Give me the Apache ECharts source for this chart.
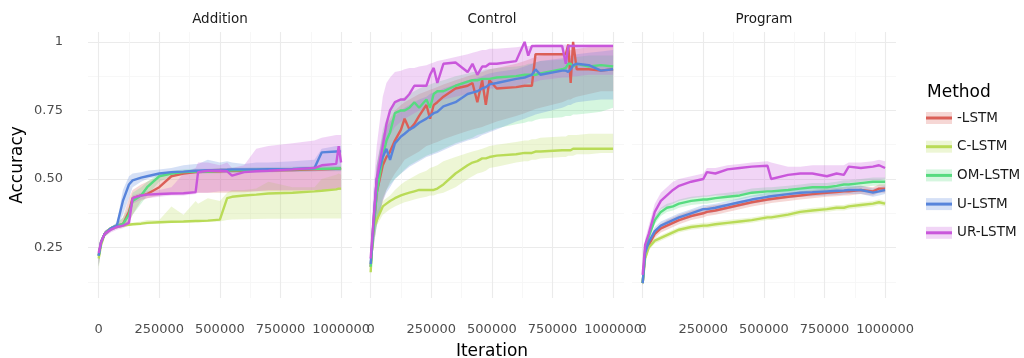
<!DOCTYPE html>
<html>
<head>
<meta charset="utf-8">
<script src="https://cdn.jsdelivr.net/npm/echarts@6/dist/echarts.min.js"></script>
<style>
  html, body { margin: 0; padding: 0; background: #fff; }
  #main { width: 1024px; height: 358px; }
</style>
</head>
<body>
<div id="main"></div>
<script>
// methods, colours, facets
var methods = ['-LSTM', 'C-LSTM', 'OM-LSTM', 'U-LSTM', 'UR-LSTM'];
var colors = ['#db5f57', '#b9db57', '#57db80', '#5784db', '#c957db'];
var panelNames = ['Addition', 'Control', 'Program'];

// axis ticks
var xTicks = [0, 250000, 500000, 750000, 1000000];
var xMinor = [125000, 375000, 625000, 875000];
var yTicks = [0.25, 0.5, 0.75, 1];
var yMinor = [0.125, 0.375, 0.625, 0.875];

// ---- Addition ----
var addX = [0, 10000, 25000, 50000, 75000, 100000, 125000, 140000, 175000, 200000, 250000, 300000, 350000, 400000, 410000, 450000, 500000, 530000, 550000, 600000, 650000, 700000, 800000, 890000, 920000, 980000, 990000, 1000000];
var addLstm   = [0.22,0.27,0.30,0.32,0.33,0.335,0.38,0.43,0.44,0.445,0.47,0.51,0.52,0.525,0.525,0.527,0.528,0.53,0.53,0.53,0.53,0.532,0.533,0.535,0.535,0.537,0.537,0.54];
var addLstmLo = [0.18,0.26,0.29,0.31,0.32,0.325,0.34,0.37,0.42,0.43,0.44,0.445,0.445,0.45,0.45,0.45,0.45,0.45,0.452,0.452,0.455,0.455,0.455,0.458,0.46,0.46,0.46,0.46];
var addLstmHi = [0.24,0.28,0.31,0.325,0.335,0.36,0.43,0.46,0.48,0.49,0.51,0.525,0.53,0.535,0.535,0.535,0.54,0.54,0.54,0.54,0.54,0.54,0.54,0.545,0.545,0.545,0.545,0.545];
var addC   = [0.21,0.26,0.30,0.32,0.325,0.33,0.333,0.335,0.337,0.34,0.342,0.344,0.345,0.347,0.347,0.348,0.352,0.43,0.435,0.44,0.443,0.447,0.45,0.455,0.457,0.462,0.465,0.465];
var addCLo = [0.17,0.25,0.29,0.31,0.32,0.325,0.33,0.33,0.333,0.335,0.338,0.34,0.34,0.342,0.342,0.343,0.345,0.35,0.352,0.353,0.354,0.355,0.355,0.356,0.356,0.356,0.356,0.356];
var addCHi = [0.23,0.27,0.31,0.325,0.33,0.335,0.34,0.34,0.345,0.35,0.35,0.40,0.37,0.42,0.41,0.43,0.42,0.45,0.46,0.46,0.465,0.49,0.47,0.47,0.50,0.515,0.52,0.515];
var addOm   = [0.22,0.27,0.30,0.32,0.33,0.335,0.37,0.42,0.44,0.47,0.51,0.52,0.525,0.527,0.527,0.527,0.53,0.53,0.532,0.532,0.533,0.534,0.535,0.537,0.537,0.538,0.538,0.538];
var addOmLo = [0.18,0.26,0.29,0.31,0.32,0.325,0.34,0.37,0.41,0.44,0.49,0.51,0.515,0.52,0.52,0.52,0.52,0.522,0.522,0.524,0.525,0.525,0.526,0.527,0.528,0.528,0.528,0.528];
var addOmHi = [0.24,0.28,0.31,0.325,0.34,0.36,0.40,0.45,0.47,0.49,0.52,0.53,0.535,0.537,0.537,0.537,0.54,0.54,0.542,0.542,0.543,0.544,0.545,0.547,0.547,0.548,0.548,0.548];
var addU   = [0.22,0.27,0.30,0.32,0.33,0.42,0.48,0.495,0.505,0.51,0.52,0.525,0.527,0.53,0.53,0.532,0.533,0.534,0.535,0.535,0.535,0.536,0.537,0.54,0.597,0.60,0.60,0.60];
var addULo = [0.18,0.26,0.29,0.31,0.32,0.37,0.43,0.47,0.49,0.50,0.51,0.515,0.518,0.52,0.52,0.522,0.522,0.523,0.524,0.524,0.525,0.525,0.526,0.528,0.53,0.53,0.53,0.53];
var addUHi = [0.24,0.28,0.31,0.325,0.34,0.46,0.51,0.52,0.525,0.53,0.535,0.54,0.55,0.555,0.555,0.57,0.56,0.565,0.56,0.555,0.56,0.56,0.565,0.57,0.61,0.62,0.62,0.62];
var addUr   = [0.23,0.27,0.30,0.315,0.325,0.33,0.34,0.43,0.44,0.443,0.445,0.447,0.448,0.452,0.525,0.53,0.53,0.528,0.512,0.525,0.528,0.53,0.535,0.54,0.55,0.555,0.62,0.56];
var addUrLo = [0.19,0.26,0.29,0.305,0.315,0.32,0.33,0.41,0.425,0.43,0.435,0.44,0.44,0.445,0.45,0.45,0.455,0.455,0.455,0.455,0.455,0.46,0.46,0.46,0.46,0.46,0.46,0.46];
var addUrHi = [0.25,0.28,0.31,0.325,0.335,0.34,0.35,0.44,0.45,0.455,0.46,0.47,0.52,0.54,0.56,0.56,0.55,0.56,0.54,0.55,0.61,0.62,0.63,0.64,0.65,0.66,0.66,0.66];

// ---- Control ----
var ctlX = [0, 10000, 25000, 50000, 65000, 80000, 100000, 125000, 140000, 160000, 180000, 200000, 230000, 245000, 260000, 275000, 300000, 350000, 400000, 420000, 440000, 460000, 475000, 490000, 520000, 600000, 635000, 650000, 665000, 680000, 700000, 790000, 805000, 815000, 825000, 835000, 850000, 900000, 950000, 1000000];
var ctlLstm   = [0.18,0.30,0.45,0.55,0.58,0.60,0.64,0.68,0.72,0.68,0.70,0.73,0.77,0.72,0.77,0.78,0.80,0.83,0.84,0.85,0.78,0.86,0.77,0.86,0.83,0.835,0.84,0.84,0.84,0.955,0.955,0.955,0.955,0.99,0.85,1.0,0.90,0.90,0.895,0.90];
var ctlLstmLo = [0.17,0.24,0.33,0.42,0.46,0.49,0.52,0.55,0.57,0.58,0.59,0.60,0.62,0.625,0.63,0.635,0.645,0.66,0.675,0.68,0.685,0.69,0.695,0.70,0.71,0.73,0.74,0.745,0.75,0.755,0.76,0.78,0.785,0.79,0.79,0.795,0.80,0.81,0.82,0.82];
var ctlLstmHi = [0.20,0.38,0.55,0.66,0.70,0.72,0.75,0.77,0.78,0.79,0.80,0.81,0.82,0.825,0.83,0.835,0.845,0.86,0.875,0.88,0.885,0.89,0.895,0.90,0.905,0.92,0.93,0.935,0.94,0.945,0.95,0.96,0.965,0.965,0.97,0.97,0.975,0.98,0.98,0.98];
var ctlC   = [0.16,0.32,0.35,0.40,0.41,0.42,0.43,0.44,0.445,0.45,0.455,0.46,0.46,0.46,0.46,0.465,0.48,0.52,0.55,0.56,0.565,0.575,0.575,0.58,0.585,0.59,0.595,0.595,0.595,0.60,0.60,0.605,0.605,0.605,0.605,0.61,0.61,0.61,0.61,0.61];
var ctlCLo = [0.15,0.30,0.33,0.37,0.38,0.39,0.40,0.41,0.415,0.42,0.425,0.43,0.435,0.44,0.44,0.445,0.45,0.47,0.50,0.51,0.52,0.525,0.53,0.54,0.545,0.56,0.565,0.565,0.57,0.57,0.575,0.58,0.58,0.585,0.585,0.585,0.59,0.59,0.595,0.595];
var ctlCHi = [0.17,0.35,0.38,0.42,0.43,0.44,0.46,0.48,0.49,0.50,0.51,0.52,0.53,0.54,0.545,0.55,0.565,0.58,0.595,0.60,0.605,0.61,0.615,0.62,0.625,0.635,0.64,0.64,0.645,0.645,0.65,0.655,0.655,0.66,0.66,0.66,0.66,0.665,0.665,0.665];
var ctlOm   = [0.18,0.30,0.45,0.58,0.64,0.67,0.74,0.75,0.75,0.76,0.78,0.76,0.79,0.76,0.81,0.82,0.82,0.84,0.855,0.86,0.86,0.865,0.865,0.865,0.87,0.875,0.88,0.88,0.88,0.88,0.885,0.90,0.905,0.92,0.92,0.91,0.92,0.91,0.915,0.91];
var ctlOmLo = [0.17,0.24,0.33,0.43,0.46,0.48,0.50,0.52,0.535,0.55,0.56,0.57,0.585,0.59,0.595,0.60,0.61,0.63,0.645,0.65,0.66,0.665,0.67,0.675,0.685,0.70,0.705,0.71,0.71,0.715,0.72,0.725,0.73,0.73,0.73,0.735,0.735,0.74,0.745,0.76];
var ctlOmHi = [0.20,0.38,0.55,0.68,0.72,0.75,0.78,0.79,0.80,0.81,0.82,0.83,0.84,0.845,0.85,0.855,0.86,0.875,0.885,0.89,0.89,0.895,0.90,0.90,0.905,0.91,0.915,0.92,0.92,0.925,0.93,0.935,0.94,0.94,0.94,0.945,0.945,0.95,0.95,0.95];
var ctlU   = [0.19,0.32,0.50,0.58,0.61,0.57,0.63,0.655,0.665,0.68,0.69,0.705,0.72,0.73,0.74,0.745,0.765,0.78,0.81,0.815,0.82,0.83,0.835,0.845,0.85,0.865,0.87,0.875,0.88,0.90,0.88,0.895,0.895,0.89,0.90,0.915,0.92,0.915,0.895,0.90];
var ctlULo = [0.17,0.25,0.33,0.42,0.45,0.47,0.50,0.52,0.53,0.545,0.555,0.565,0.58,0.585,0.59,0.595,0.605,0.625,0.64,0.645,0.65,0.66,0.665,0.67,0.68,0.71,0.72,0.725,0.73,0.735,0.74,0.76,0.765,0.77,0.77,0.775,0.78,0.785,0.79,0.79];
var ctlUHi = [0.21,0.40,0.55,0.66,0.69,0.71,0.73,0.75,0.76,0.77,0.78,0.79,0.80,0.81,0.815,0.82,0.83,0.845,0.86,0.865,0.87,0.875,0.88,0.885,0.89,0.90,0.91,0.915,0.92,0.925,0.93,0.94,0.945,0.945,0.95,0.95,0.955,0.96,0.965,0.97];
var ctlUr   = [0.21,0.33,0.50,0.62,0.70,0.75,0.78,0.79,0.79,0.81,0.84,0.84,0.84,0.88,0.905,0.85,0.92,0.925,0.89,0.92,0.88,0.91,0.91,0.92,0.92,0.93,1.0,0.95,0.985,0.985,0.985,0.985,0.92,0.985,0.985,0.985,0.985,0.985,0.985,0.985];
var ctlUrLo = [0.20,0.28,0.40,0.56,0.62,0.66,0.69,0.71,0.72,0.73,0.74,0.75,0.76,0.77,0.78,0.78,0.79,0.80,0.81,0.815,0.82,0.82,0.825,0.83,0.83,0.84,0.845,0.85,0.85,0.855,0.86,0.87,0.87,0.87,0.875,0.875,0.875,0.88,0.88,0.88];
var ctlUrHi = [0.22,0.45,0.62,0.80,0.85,0.87,0.89,0.895,0.90,0.905,0.905,0.91,0.915,0.92,0.925,0.93,0.935,0.945,0.955,0.96,0.965,0.97,0.97,0.975,0.975,0.98,0.985,0.985,0.985,0.99,0.99,0.99,0.99,0.99,0.99,0.99,0.99,0.99,0.99,0.99];

// ---- Program ----
var prgX = [0, 10000, 25000, 50000, 75000, 100000, 125000, 150000, 200000, 250000, 265000, 300000, 350000, 400000, 450000, 515000, 530000, 600000, 650000, 700000, 760000, 800000, 830000, 850000, 900000, 950000, 975000, 1000000];
var prgLstm   = [0.12,0.22,0.26,0.30,0.32,0.33,0.34,0.35,0.365,0.375,0.38,0.385,0.395,0.405,0.415,0.425,0.427,0.435,0.44,0.445,0.45,0.452,0.455,0.455,0.46,0.455,0.465,0.465];
var prgLstmLo = [0.11,0.20,0.245,0.285,0.305,0.315,0.325,0.335,0.35,0.36,0.365,0.37,0.38,0.39,0.40,0.41,0.412,0.42,0.425,0.43,0.435,0.437,0.44,0.44,0.445,0.44,0.45,0.45];
var prgLstmHi = [0.13,0.24,0.275,0.315,0.335,0.35,0.36,0.37,0.385,0.395,0.40,0.405,0.41,0.42,0.43,0.44,0.442,0.45,0.455,0.46,0.465,0.467,0.47,0.47,0.475,0.47,0.48,0.48];
var prgC   = [0.12,0.21,0.25,0.275,0.285,0.295,0.305,0.315,0.325,0.33,0.33,0.335,0.34,0.345,0.35,0.36,0.36,0.37,0.38,0.385,0.39,0.395,0.395,0.40,0.405,0.41,0.415,0.41];
var prgCLo = [0.11,0.20,0.24,0.265,0.275,0.285,0.295,0.305,0.315,0.32,0.32,0.325,0.33,0.335,0.34,0.35,0.35,0.36,0.37,0.375,0.38,0.385,0.385,0.39,0.395,0.40,0.405,0.40];
var prgCHi = [0.13,0.22,0.26,0.285,0.295,0.305,0.315,0.325,0.335,0.34,0.34,0.345,0.35,0.355,0.36,0.37,0.37,0.38,0.39,0.395,0.40,0.405,0.405,0.41,0.415,0.42,0.425,0.42];
var prgOm   = [0.12,0.24,0.29,0.35,0.38,0.395,0.40,0.41,0.42,0.425,0.425,0.43,0.435,0.44,0.45,0.455,0.455,0.46,0.465,0.47,0.47,0.475,0.48,0.48,0.485,0.49,0.49,0.49];
var prgOmLo = [0.11,0.22,0.275,0.335,0.365,0.38,0.385,0.395,0.405,0.41,0.41,0.415,0.42,0.425,0.435,0.44,0.44,0.445,0.45,0.455,0.455,0.46,0.465,0.465,0.47,0.475,0.475,0.475];
var prgOmHi = [0.13,0.26,0.305,0.365,0.395,0.41,0.415,0.425,0.435,0.44,0.44,0.445,0.45,0.455,0.465,0.47,0.47,0.475,0.48,0.485,0.485,0.49,0.495,0.495,0.50,0.505,0.505,0.505];
var prgU   = [0.12,0.23,0.27,0.31,0.33,0.34,0.35,0.36,0.375,0.39,0.39,0.395,0.405,0.415,0.425,0.435,0.437,0.445,0.45,0.452,0.455,0.457,0.458,0.46,0.46,0.45,0.455,0.46];
var prgULo = [0.11,0.215,0.255,0.295,0.315,0.325,0.335,0.345,0.36,0.375,0.375,0.38,0.39,0.40,0.41,0.42,0.422,0.43,0.435,0.437,0.44,0.442,0.443,0.445,0.445,0.435,0.44,0.445];
var prgUHi = [0.13,0.245,0.285,0.325,0.345,0.355,0.365,0.375,0.39,0.405,0.405,0.41,0.42,0.43,0.44,0.45,0.452,0.46,0.465,0.467,0.47,0.472,0.473,0.475,0.475,0.465,0.47,0.475];
var prgUr   = [0.15,0.26,0.30,0.38,0.42,0.44,0.46,0.475,0.49,0.50,0.525,0.52,0.535,0.54,0.545,0.548,0.50,0.515,0.52,0.52,0.51,0.52,0.515,0.545,0.54,0.545,0.55,0.54];
var prgUrLo = [0.14,0.24,0.28,0.35,0.39,0.40,0.41,0.42,0.43,0.435,0.435,0.44,0.44,0.445,0.45,0.455,0.455,0.46,0.465,0.47,0.475,0.48,0.48,0.485,0.49,0.495,0.495,0.50];
var prgUrHi = [0.16,0.28,0.33,0.41,0.45,0.47,0.49,0.50,0.51,0.52,0.54,0.54,0.55,0.555,0.56,0.565,0.56,0.545,0.545,0.55,0.55,0.55,0.55,0.56,0.56,0.565,0.57,0.565];

// table built from the arrays above
var panels = [
  { x: addX, mean: [addLstm, addC, addOm, addU, addUr], lo: [addLstmLo, addCLo, addOmLo, addULo, addUrLo], hi: [addLstmHi, addCHi, addOmHi, addUHi, addUrHi] },
  { x: ctlX, mean: [ctlLstm, ctlC, ctlOm, ctlU, ctlUr], lo: [ctlLstmLo, ctlCLo, ctlOmLo, ctlULo, ctlUrLo], hi: [ctlLstmHi, ctlCHi, ctlOmHi, ctlUHi, ctlUrHi] },
  { x: prgX, mean: [prgLstm, prgC, prgOm, prgU, prgUr], lo: [prgLstmLo, prgCLo, prgOmLo, prgULo, prgUrLo], hi: [prgLstmHi, prgCHi, prgOmHi, prgUHi, prgUrHi] }
];

var gridLefts = [88, 360, 632];
var xMin = -44000, xMax = 1045000;
var yMin = 0.066, yMax = 1.036;
var bandAlpha = 0.25;

function hexA(hex, a) {
  var n = parseInt(hex.slice(1), 16);
  return 'rgba(' + (n >> 16) + ',' + ((n >> 8) & 255) + ',' + (n & 255) + ',' + a + ')';
}

var grids = [], xAxes = [], yAxes = [], series = [];
var minorX = [], minorY = [];

panelNames.forEach(function (name, p) {
  grids.push({ left: gridLefts[p], top: 32, width: 264, height: 266, containLabel: false, outerBoundsMode: 'none' });
  xAxes.push({
    type: 'value', gridIndex: p, min: xMin, max: xMax,
    name: p === 1 ? 'Iteration' : '',
    nameLocation: 'middle', nameGap: 45,
    nameTextStyle: { fontSize: 17, color: '#000' },
    axisLine: { show: false },
    axisTick: { show: false, customValues: xTicks },
    axisLabel: { customValues: xTicks, formatter: function (v) { return String(v); }, fontSize: 13, color: '#4d4d4d', margin: 25, hideOverlap: false },
    splitLine: { show: true, lineStyle: { color: '#ebebeb', width: 1.1 } }
  });
  yAxes.push({
    type: 'value', gridIndex: p, min: yMin, max: yMax,
    name: p === 0 ? 'Accuracy' : '',
    nameLocation: 'middle', nameRotate: 90, nameGap: 62,
    nameTextStyle: { fontSize: 17, color: '#000' },
    axisLine: { show: false },
    axisTick: { show: false, customValues: yTicks },
    axisLabel: { show: p === 0, customValues: yTicks, formatter: function (v) { return v === 1 ? '1' : v.toFixed(2); }, fontSize: 13, color: '#4d4d4d', margin: 25 },
    splitLine: { show: true, lineStyle: { color: '#ebebeb', width: 1.1 } }
  });
  minorX.push({
    type: 'value', gridIndex: p, min: xMin, max: xMax,
    axisLine: { show: false }, axisLabel: { show: false },
    axisTick: { show: false, customValues: xMinor },
    splitLine: { show: true, lineStyle: { color: '#f5f5f5', width: 0.8 } }
  });
  minorY.push({
    type: 'value', gridIndex: p, min: yMin, max: yMax,
    axisLine: { show: false }, axisLabel: { show: false },
    axisTick: { show: false, customValues: yMinor },
    splitLine: { show: true, lineStyle: { color: '#f5f5f5', width: 0.8 } }
  });

  var d = panels[p];
  // ribbons first
  methods.forEach(function (m, k) {
    var lo = d.lo[k], hi = d.hi[k], xs = d.x;
    series.push({
      name: m + ' band', type: 'custom', xAxisIndex: p, yAxisIndex: p, z: 2,
      itemStyle: { color: hexA(colors[k], bandAlpha) },
      data: xs.map(function (x, i) { return [x, lo[i], hi[i]]; }),
      encode: { x: 0, y: [1, 2] },
      renderItem: function (params, api) {
        if (params.dataIndex !== 0) return null;
        var pts = [];
        for (var i = 0; i < xs.length; i++) pts.push(api.coord([xs[i], lo[i]]));
        for (var j = xs.length - 1; j >= 0; j--) pts.push(api.coord([xs[j], hi[j]]));
        return { type: 'polygon', shape: { points: pts }, style: { fill: colors[k], opacity: bandAlpha } };
      },
      silent: true
    });
  });
  methods.forEach(function (m, k) {
    var mean = d.mean[k];
    series.push({
      name: m, type: 'line', xAxisIndex: p, yAxisIndex: p, z: 3,
      showSymbol: false, symbol: 'none',
      color: colors[k],
      lineStyle: { width: 2.4, color: colors[k] },
      data: d.x.map(function (x, i) { return [x, mean[i]]; })
    });
  });
});

var graphics = panelNames.map(function (name, p) {
  return { type: 'text', x: gridLefts[p] + 132, y: 19,
    style: { text: name, font: '13.5px "DejaVu Sans"', fill: '#1a1a1a', align: 'center', verticalAlign: 'middle', textAlign: 'center', textVerticalAlign: 'middle' } };
});
graphics.push({ type: 'text', x: 927, y: 93,
  style: { text: 'Method', font: '17px "DejaVu Sans"', fill: '#000', align: 'left', verticalAlign: 'middle', textAlign: 'left', textVerticalAlign: 'middle' } });

var myChart = echarts.init(document.getElementById('main'));
var option = {
  animation: false,
  backgroundColor: '#fff',
  textStyle: { fontFamily: 'DejaVu Sans' },
  grid: grids,
  xAxis: xAxes.concat(minorX),
  yAxis: yAxes.concat(minorY),
  legend: [
    {
      data: methods.map(function (m, k) { return { name: m + ' band', itemStyle: { color: hexA(colors[k], bandAlpha) } }; }),
      orient: 'vertical', left: 926, top: 110, itemGap: 12.7, padding: 0,
      icon: 'rect', itemWidth: 26, itemHeight: 12, z: 3,
      selectedMode: false,
      formatter: function (n) { return n.replace(' band', ''); },
      textStyle: { fontSize: 13.5, lineHeight: 16, color: 'rgba(0,0,0,0)' }
    },
    {
      data: methods,
      orient: 'vertical', left: 926, top: 110, itemGap: 12.7, padding: 0,
      icon: 'rect', itemWidth: 26, itemHeight: 3, z: 4,
      selectedMode: false,
      textStyle: { fontSize: 13.5, lineHeight: 16, color: '#1a1a1a' }
    }
  ],
  graphic: graphics,
  series: series
};
myChart.setOption(option);
window.onresize = function () {
  myChart.resize();
};
</script>
</body>
</html>
